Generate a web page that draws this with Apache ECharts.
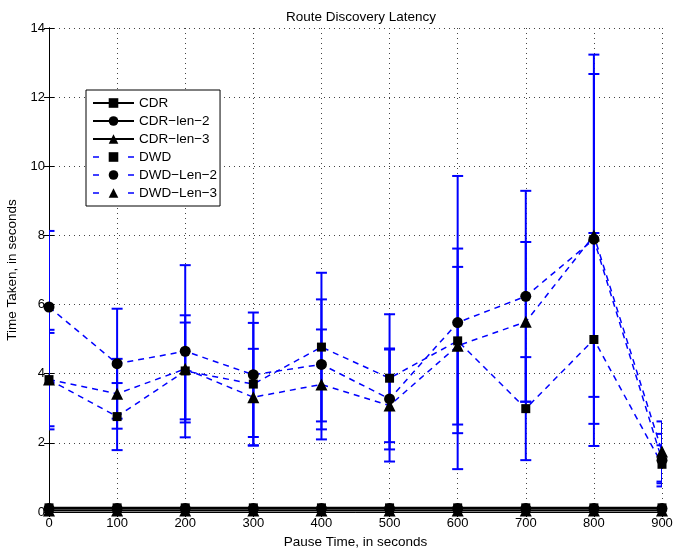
<!DOCTYPE html>
<html><head><meta charset="utf-8">
<script src="https://cdn.jsdelivr.net/npm/echarts@6/dist/echarts.min.js"></script>
<style>html,body{margin:0;padding:0;background:#fff}#c{width:673px;height:550px}</style>
</head><body><div id="c"></div>
<script>
const pauseTimes = [0, 100, 200, 300, 400, 500, 600, 700, 800, 900];
const xTicks = [0, 100, 200, 300, 400, 500, 600, 700, 800, 900];
const yTicks = [0, 2, 4, 6, 8, 10, 12, 14];
const cdr     = [0.12, 0.12, 0.12, 0.12, 0.12, 0.12, 0.12, 0.12, 0.12, 0.12];
const cdrLen2 = [0.10, 0.10, 0.10, 0.10, 0.10, 0.10, 0.10, 0.10, 0.10, 0.10];
const cdrLen3 = [0.04, 0.04, 0.04, 0.04, 0.04, 0.04, 0.04, 0.04, 0.04, 0.04];
const dwd        = [3.83, 2.76, 4.08, 3.70, 4.77, 3.87, 4.95, 2.99, 4.99, 1.38];
const dwdErr     = [1.44, 0.97, 1.40, 1.77, 2.15, 1.85, 2.67, 1.49, 3.08, 0.55];
const dwdLen2    = [5.93, 4.29, 4.65, 3.97, 4.27, 3.27, 5.48, 6.24, 7.89, 1.50];
const dwdLen2Err = [2.20, 1.59, 2.49, 1.80, 1.88, 1.46, 4.24, 3.05, 5.34, 0.76];
const dwdLen3    = [3.83, 3.42, 4.14, 3.32, 3.69, 3.08, 4.81, 5.50, 8.00, 1.75];
const dwdLen3Err = [1.35, 1.01, 1.55, 1.40, 1.59, 1.62, 2.28, 2.31, 4.67, 0.87];

const FONT = 'Liberation Sans, Arial, Helvetica, sans-serif';
const BLUE = '#0000ff';
const pairs = (ys) => pauseTimes.map((x, i) => [x, ys[i]]);
const errData = (ys, es) => pauseTimes.map((x, i) => [x, ys[i] - es[i], ys[i] + es[i]]);

function errSeries(name, ys, es) {
  return {
    name: name + '-err', type: 'custom', clip: true, z: 2,
    data: errData(ys, es),
    encode: { x: 0, y: [1, 2] },
    renderItem: function (params, api) {
      const x = api.value(0);
      const lo = api.coord([x, api.value(1)]);
      const hi = api.coord([x, api.value(2)]);
      const w = 5.5;
      const st = { stroke: BLUE, lineWidth: 2 };
      return { type: 'group', children: [
        { type: 'line', shape: { x1: lo[0], y1: lo[1], x2: hi[0], y2: hi[1] }, style: st },
        { type: 'line', shape: { x1: lo[0] - w, y1: lo[1], x2: lo[0] + w, y2: lo[1] }, style: st },
        { type: 'line', shape: { x1: hi[0] - w, y1: hi[1], x2: hi[0] + w, y2: hi[1] }, style: st }
      ]};
    }
  };
}

function lineSeries(name, ys, symbol, size, dashed) {
  return {
    name: name, type: 'line', data: pairs(ys), z: 5,
    symbol: symbol, symbolSize: size, showSymbol: true,
    itemStyle: { color: '#000' },
    lineStyle: dashed ? { color: BLUE, width: 1.5, type: [6, 5] } : { color: '#000', width: 2 },
    emphasis: { disabled: true }, animation: false
  };
}

const axisCommon = {
  type: 'value',
  axisLine: { show: true, lineStyle: { color: '#000', width: 1 } },
  axisTick: { show: true, inside: true, length: 5, lineStyle: { color: '#000' } },
  axisLabel: { color: '#000', fontFamily: FONT, fontSize: 13 },
  splitLine: { show: false }
};
const legDash = { color: BLUE, width: 1.5, type: [6, 29] };

const chart = echarts.init(document.getElementById('c'), null, { renderer: 'canvas' });
chart.setOption({
  animation: false,
  backgroundColor: '#fff',
  title: { text: 'Route Discovery Latency', left: 356, top: 5, textAlign: 'center',
    textStyle: { fontFamily: FONT, fontSize: 13.5, fontWeight: 'normal', color: '#000' } },
  grid: { left: 49, top: 28, width: 613, height: 484, containLabel: false, outerBoundsMode: 'none' },
  legend: {
    orient: 'vertical', left: 86, top: 90, padding: [5, 3, 5, 6],
    itemWidth: 41, itemHeight: 12, itemGap: 2,
    borderColor: '#000', borderWidth: 1, backgroundColor: '#fff',
    textStyle: { fontFamily: FONT, fontSize: 13.5, color: '#000', lineHeight: 16 },
    data: [
      { name: 'CDR' }, { name: 'CDR\u2212len\u22122' }, { name: 'CDR\u2212len\u22123' },
      { name: 'DWD', lineStyle: legDash },
      { name: 'DWD\u2212Len\u22122', lineStyle: legDash },
      { name: 'DWD\u2212Len\u22123', lineStyle: legDash }
    ]
  },
  xAxis: [
    Object.assign({}, axisCommon, {
      min: xTicks[0], max: xTicks[xTicks.length - 1], interval: 100, position: 'bottom',
      name: 'Pause Time, in seconds', nameLocation: 'middle', nameGap: 22,
      nameTextStyle: { fontFamily: FONT, fontSize: 13.5, color: '#000' },
      axisLabel: { color: '#000', fontFamily: FONT, fontSize: 13, margin: 5 },
      splitLine: { show: true, lineStyle: { color: '#444', type: [1, 4], width: 1 } }
    }),
    Object.assign({}, axisCommon, {
      min: 0, max: 900, interval: 100, position: 'top', axisLabel: { show: false }
    })
  ],
  yAxis: [
    Object.assign({}, axisCommon, {
      min: yTicks[0], max: yTicks[yTicks.length - 1], interval: 2, position: 'left',
      name: 'Time Taken, in seconds', nameLocation: 'middle', nameGap: 24,
      nameTextStyle: { fontFamily: FONT, fontSize: 13.5, color: '#000' },
      axisLabel: { color: '#000', fontFamily: FONT, fontSize: 13, margin: 4 },
      splitLine: { show: true, lineStyle: { color: '#444', type: [1, 4], width: 1 } }
    }),
    Object.assign({}, axisCommon, {
      min: 0, max: 14, interval: 2, position: 'right', axisLabel: { show: false }
    })
  ],
  series: [
    errSeries('DWD', dwd, dwdErr),
    errSeries('DWD-Len-2', dwdLen2, dwdLen2Err),
    errSeries('DWD-Len-3', dwdLen3, dwdLen3Err),
    lineSeries('CDR', cdr, 'rect', 9, false),
    lineSeries('CDR\u2212len\u22122', cdrLen2, 'circle', 11, false),
    lineSeries('CDR\u2212len\u22123', cdrLen3, 'triangle', 12, false),
    lineSeries('DWD', dwd, 'rect', 9, true),
    lineSeries('DWD\u2212Len\u22122', dwdLen2, 'circle', 11, true),
    lineSeries('DWD\u2212Len\u22123', dwdLen3, 'triangle', 12, true)
  ]
});
</script></body></html>
